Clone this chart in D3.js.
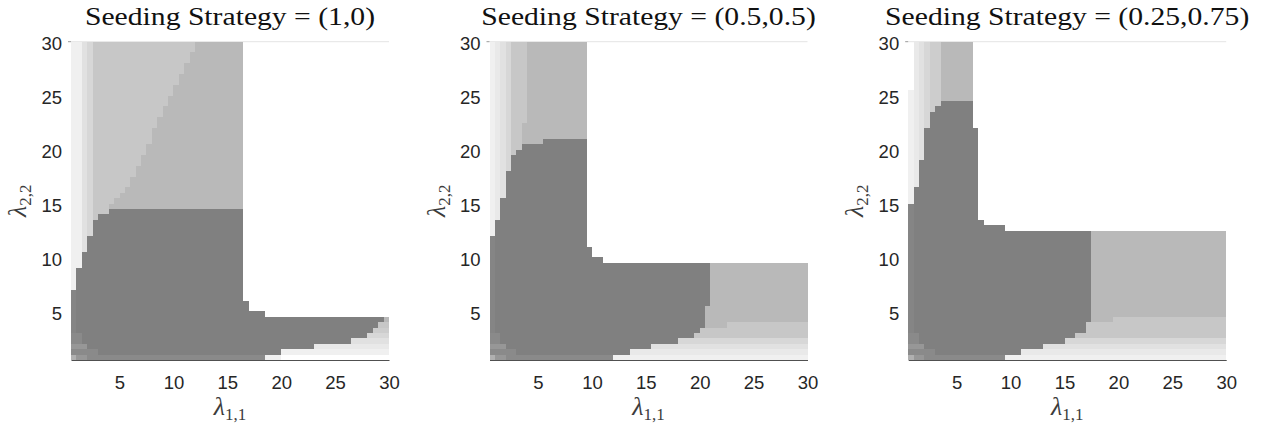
<!DOCTYPE html>
<html>
<head>
<meta charset="utf-8">
<script src="https://cdn.jsdelivr.net/npm/d3@7"></script>
<style>
  body { margin: 0; background: #fff; }
</style>
</head>
<body>
<div id="chart"></div>
<script>
// seeding strategies shown in the three panels
const strategies = ["(1,0)", "(0.5,0.5)", "(0.25,0.75)"];
const xTicks = [5, 10, 15, 20, 25, 30];
const yTicks = [5, 10, 15, 20, 25, 30];
const lambdaRange = [0.5, 30];

// cells: [x0, x1, y0, y1, level]  (lambda units, level 0 = white ... 12 = darkest)
const cells1 = [
  [0.5, 1.5, 0.5, 30, 1], [1.5, 2, 0.5, 30, 3], [2, 2.5, 0.5, 30, 4], [2.5, 16.5, 0.5, 30, 6],
  [18.5, 20, 0.5, 1, 1], [20, 30, 1, 1.5, 1], [23, 30, 1.5, 2, 2], [26.5, 30, 2, 2.5, 3],
  [28, 30, 2.5, 3, 4], [28.5, 30, 3, 3.5, 5], [29, 30, 3.5, 4, 6], [29.5, 30, 4, 4.5, 7],
  [4, 4.5, 14.5, 15, 7], [4.5, 5, 14.5, 15.5, 7], [5, 5.5, 14.5, 16, 7], [5.5, 6, 14.5, 16.5, 7],
  [6, 6.5, 14.5, 17.5, 7], [6.5, 7, 14.5, 18.5, 7], [7, 7.5, 14.5, 19.5, 7], [7.5, 8, 14.5, 20.5, 7],
  [8, 8.5, 14.5, 22, 7], [8.5, 9, 14.5, 23, 7], [9, 9.5, 14.5, 24, 7], [9.5, 10, 14.5, 25, 7],
  [10, 10.5, 14.5, 26, 7], [10.5, 11, 14.5, 27, 7], [11, 11.5, 14.5, 28, 7], [11.5, 12, 14.5, 29, 7],
  [12, 16.5, 14.5, 30, 7],
  [0.5, 1, 0.5, 7, 12], [1, 1.5, 0.5, 9, 12], [1.5, 2, 0.5, 10.5, 12], [2, 2.5, 0.5, 12, 12],
  [2.5, 3, 0.5, 13.5, 12], [3, 4, 0.5, 14, 12], [4, 16.5, 0.5, 14.5, 12], [16.5, 17, 0.5, 6, 12],
  [17, 18.5, 0.5, 5, 12],
  [18.5, 29.5, 4, 4.5, 12], [18.5, 29, 3.5, 4, 12], [18.5, 28.5, 3, 3.5, 12], [18.5, 28, 2.5, 3, 12],
  [18.5, 26.5, 2, 2.5, 12], [18.5, 23, 1.5, 2, 12], [18.5, 20, 1, 1.5, 12],
  [0.5, 1, 3, 7, 11], [0.5, 1.5, 2, 3, 10], [0.5, 2, 1.5, 2, 9], [0.5, 3, 1, 1.5, 10],
  [0.5, 18.5, 0.5, 1, 10], [1, 2, 0.5, 1, 9], [0.5, 1, 0.5, 1, 8]
];

const cells2 = [
  [0.5, 1, 0.5, 30, 1], [1, 1.5, 0.5, 30, 2], [1.5, 2, 0.5, 30, 3], [2, 2.5, 0.5, 30, 4],
  [2.5, 4, 0.5, 30, 6], [3.5, 4, 0.5, 22.5, 7], [4, 9.5, 0.5, 30, 7],
  [12, 30, 0.5, 1, 1], [13.5, 30, 1, 1.5, 2], [15.5, 30, 1.5, 2, 3], [18, 30, 2, 2.5, 4],
  [19.5, 30, 2.5, 4, 6], [20.5, 22.5, 3.5, 4, 7], [20.5, 30, 4, 9.5, 7],
  [0.5, 1, 0.5, 12, 12], [1, 1.5, 0.5, 13.5, 12], [1.5, 2, 0.5, 15.5, 12], [2, 2.5, 0.5, 18, 12],
  [2.5, 3, 0.5, 19.5, 12], [3, 3.5, 0.5, 20, 12], [3.5, 5.5, 0.5, 20.5, 12], [5.5, 9.5, 0.5, 21, 12],
  [9.5, 10, 0.5, 11, 12], [10, 11, 0.5, 10, 12],
  [11, 21, 5.5, 9.5, 12], [11, 20.5, 3.5, 5.5, 12], [11, 20, 3, 3.5, 12], [11, 19.5, 2.5, 3, 12],
  [11, 18, 2, 2.5, 12], [11, 15.5, 1.5, 2, 12], [11, 13.5, 1, 1.5, 12], [11, 12, 0.5, 1, 12],
  [0.5, 1, 3, 12, 11], [0.5, 1.5, 2, 3, 10], [0.5, 2, 1.5, 2, 9], [0.5, 3, 1, 1.5, 10],
  [0.5, 12, 0.5, 1, 10], [1, 2, 0.5, 1, 9], [0.5, 1, 0.5, 1, 8]
];

const cells3 = [
  [0.5, 1, 0.5, 25.5, 1], [1, 1.5, 0.5, 30, 2], [1.5, 2, 0.5, 30, 3], [2, 2.5, 0.5, 30, 4],
  [2.5, 3.5, 0.5, 30, 5], [3.5, 6.5, 0.5, 30, 7],
  [9.5, 30, 0.5, 1, 1], [11, 30, 1, 1.5, 2], [13, 30, 1.5, 2, 3], [15, 30, 2, 2.5, 4],
  [16, 30, 2.5, 4.5, 6], [17.5, 19.5, 4, 4.5, 7], [17.5, 30, 4.5, 12.5, 7],
  [0.5, 1, 0.5, 15, 12], [1, 1.5, 0.5, 16.5, 12], [1.5, 2, 0.5, 19, 12], [2, 2.5, 0.5, 22, 12],
  [2.5, 3, 0.5, 23.5, 12], [3, 3.5, 0.5, 24, 12], [3.5, 6.5, 0.5, 24.5, 12], [6.5, 7, 0.5, 22, 12],
  [7, 7.5, 0.5, 13.5, 12], [7.5, 9.5, 0.5, 13, 12],
  [9.5, 17.5, 4, 12.5, 12], [9.5, 17, 3, 4, 12], [9.5, 16, 2.5, 3, 12], [9.5, 15, 2, 2.5, 12],
  [9.5, 13, 1.5, 2, 12], [9.5, 11, 1, 1.5, 12],
  [0.5, 1, 3, 15, 11], [0.5, 1.5, 2, 3, 10], [0.5, 2, 1.5, 2, 9], [0.5, 3, 1, 1.5, 10],
  [0.5, 9.5, 0.5, 1, 10], [1, 2, 0.5, 1, 9], [0.5, 1, 0.5, 1, 8]
];

const panelCells = [cells1, cells2, cells3];

// grey for each level
const shade = d3.scaleOrdinal()
  .domain(d3.range(13))
  .range(["#ffffff", "#f0f0f0", "#e9e9e9", "#e1e1e1", "#d7d7d7", "#cdcdcd", "#c7c7c7",
          "#b9b9b9", "#b0b0b0", "#979797", "#8a8a8a", "#858585", "#808080"]);

const W = 1263, H = 427;
const plotW = 318, plotTop = 41.7, plotBottom = 360;
const panelLeft = [71, 489.5, 908.2];
// the LaTeX titles run wider than Times, stretch to the same width
const titleStretch = 1.21;

const svg = d3.select("#chart").append("svg")
  .attr("width", W)
  .attr("height", H);

panelCells.forEach((cells, i) => {
  const left = panelLeft[i];
  const x = d3.scaleLinear().domain(lambdaRange).range([left, left + plotW]);
  const y = d3.scaleLinear().domain(lambdaRange).range([plotBottom, plotTop]);

  const g = svg.append("g");

  // top box edge (light)
  g.append("line")
    .attr("x1", x(lambdaRange[0])).attr("x2", x(lambdaRange[1]))
    .attr("y1", y(lambdaRange[1])).attr("y2", y(lambdaRange[1]))
    .attr("stroke", "#e4e4e4");

  g.selectAll("rect.cell")
    .data(cells)
    .join("rect")
    .attr("class", "cell")
    .attr("x", d => x(d[0]))
    .attr("width", d => x(d[1]) - x(d[0]))
    .attr("y", d => y(d[3]))
    .attr("height", d => y(d[2]) - y(d[3]))
    .attr("fill", d => shade(d[4]))
    .attr("shape-rendering", "crispEdges");

  // x axis
  const xAxis = g.append("g")
    .attr("transform", `translate(0,${plotBottom})`)
    .call(d3.axisBottom(x).tickValues(xTicks).tickSize(0).tickSizeOuter(0).tickPadding(16));
  xAxis.select(".domain").attr("stroke", "#505050").attr("stroke-width", 1.2);
  xAxis.selectAll("text")
    .attr("fill", "#262626")
    .style("font-family", "'Liberation Sans', Arial, sans-serif")
    .style("font-size", "18.5px");

  // y axis
  const yAxis = g.append("g")
    .attr("transform", `translate(${left},0)`)
    .call(d3.axisLeft(y).tickValues(yTicks).tickSize(0).tickPadding(9));
  yAxis.select(".domain").remove();
  yAxis.selectAll("text")
    .attr("dy", "0.42em")
    .attr("fill", "#262626")
    .style("font-family", "'Liberation Sans', Arial, sans-serif")
    .style("font-size", "18.5px");
  // small tick at the top of the y axis
  g.append("line")
    .attr("x1", left - 3).attr("x2", left)
    .attr("y1", y(lambdaRange[1])).attr("y2", y(lambdaRange[1]))
    .attr("stroke", "#9a9a9a");

  // title
  const title = g.append("text")
    .attr("x", left + plotW / 2)
    .attr("y", 25)
    .attr("text-anchor", "middle")
    .style("font-family", "'Liberation Serif', 'Times New Roman', serif")
    .style("font-size", "24.5px")
    .attr("fill", "#111")
    .text(`Seeding Strategy = ${strategies[i]}`);
  const natural = title.node().getComputedTextLength();
  title.attr("textLength", natural * titleStretch).attr("lengthAdjust", "spacingAndGlyphs");

  // x label
  const xl = g.append("text")
    .attr("x", left + plotW / 2)
    .attr("y", 415)
    .attr("text-anchor", "middle")
    .attr("fill", "#3c3c3c")
    .style("font-family", "'Liberation Serif', serif");
  xl.append("tspan").style("font-size", "26px").style("font-style", "italic").text("λ");
  xl.append("tspan").attr("dy", 5).style("font-size", "17px").text("1,1");

  // y label
  const yl = g.append("text")
    .attr("transform", `translate(${left - 45},${(plotTop + plotBottom) / 2}) rotate(-90)`)
    .attr("text-anchor", "middle")
    .attr("fill", "#3c3c3c")
    .style("font-family", "'Liberation Serif', serif");
  yl.append("tspan").style("font-size", "26px").style("font-style", "italic").text("λ");
  yl.append("tspan").attr("dy", 5).style("font-size", "17px").text("2,2");
});
</script>
</body>
</html>
